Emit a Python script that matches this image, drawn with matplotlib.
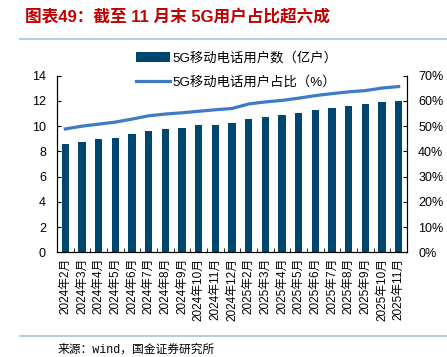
import numpy as np
from matplotlib import pyplot as plt
from matplotlib.ticker import FuncFormatter

plt.rcParams['font.family'] = ['Liberation Sans', 'Noto Sans CJK SC']

# 5G users (100 million) and share of mobile users (%)
months = ['2024年2月', '2024年3月', '2024年4月', '2024年5月', '2024年6月', '2024年7月',
          '2024年8月', '2024年9月', '2024年10月', '2024年11月', '2024年12月',
          '2025年2月', '2025年3月', '2025年4月', '2025年5月', '2025年6月', '2025年7月',
          '2025年8月', '2025年9月', '2025年10月', '2025年11月']
users = [8.56, 8.77, 8.98, 9.09, 9.35, 9.59, 9.77, 9.88, 10.06, 10.07, 10.22,
         10.57, 10.74, 10.87, 11.05, 11.26, 11.42, 11.62, 11.76, 11.91, 12.01]
share = [48.9, 50.0, 50.8, 51.6, 52.8, 54.1, 54.8, 55.3, 55.9, 56.5, 57.0,
         58.8, 59.6, 60.2, 61.1, 62.1, 62.9, 63.6, 64.1, 65.1, 65.7]

bar_color = '#00476f'
line_color = '#3d7cc2'

W, H = 447, 357
fig = plt.figure(figsize=(W / 100, H / 100), dpi=100)

ax = fig.add_axes([57 / W, 1 - 252.3 / H, 350 / W, 176.6 / H])
x = np.arange(len(months))
bars = ax.bar(x, users, width=0.44, color=bar_color, label='5G移动电话用户数（亿户）')
ax.set_xlim(-0.5, len(months) - 0.5)
ax.set_ylim(0, 14)
ax.set_yticks(range(0, 15, 2))
ax.set_xticks(x)
ax.set_xticklabels(months, rotation=90, fontsize=8.5)
ax.set_xticks(np.arange(-0.5, len(months), 1), minor=True)
ax.tick_params(axis='x', which='major', length=0, pad=4)
ax.tick_params(axis='x', which='minor', direction='in', length=3)
ax.tick_params(axis='y', direction='in', length=3, labelsize=9, pad=8)
ax.spines['top'].set_visible(False)

ax2 = ax.twinx()
line, = ax2.plot(x, share, color=line_color, linewidth=2.3, label='5G移动电话用户占比（%）')
ax2.set_ylim(0, 70)
ax2.set_yticks(range(0, 71, 10))
ax2.yaxis.set_major_formatter(FuncFormatter(lambda v, p: '%d%%' % v))
ax2.tick_params(axis='y', direction='in', length=3, labelsize=9, pad=8)
ax2.spines['top'].set_visible(False)

fig.legend(handles=[bars, line], loc='center', bbox_to_anchor=(237 / W, 1 - 70.5 / H),
           frameon=False, fontsize=9.6, labelspacing=0.85, handlelength=2.5,
           handletextpad=0.25, handleheight=0.8)

fig.text(25 / W, 1 - 17 / H, '图表49：截至 11 月末 5G用户占比超六成', color='#c00000',
         fontsize=12, fontweight='bold', va='center', ha='left')
fig.add_artist(plt.Line2D([20 / W, 1], [1 - 38.5 / H] * 2, color='#a8c3dc', linewidth=1.2))
fig.add_artist(plt.Line2D([20 / W, 1], [1 - 336 / H] * 2, color='#a8c3dc', linewidth=1.2))
fig.text(58 / W, 1 - 350 / H, '来源：wind，国金证券研究所', fontsize=8.5,
         family=['Liberation Mono', 'Noto Sans CJK SC'], va='center', ha='left')

fig.savefig('out.png', dpi=100)
